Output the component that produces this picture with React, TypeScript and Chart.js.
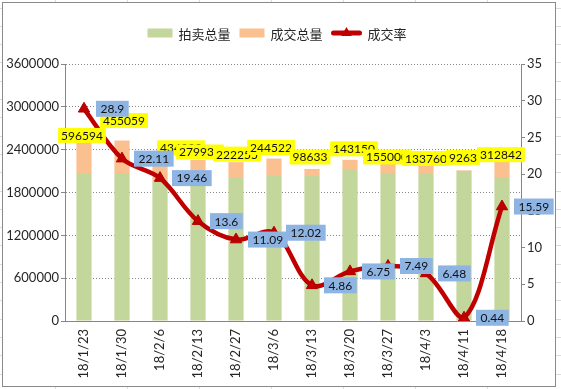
import React, { useEffect, useRef } from 'react';
import { Chart, registerables } from 'chart.js';

Chart.register(...registerables);

const categories = ['18/1/23', '18/1/30', '18/2/6', '18/2/13', '18/2/27', '18/3/6', '18/3/13', '18/3/20', '18/3/27', '18/4/3', '18/4/11', '18/4/18'];
const auctionVolume = [2059000, 2073000, 1950000, 1975000, 2003000, 2031000, 2031000, 2115000, 2073000, 2073000, 2101000, 2003000];
const dealVolume = [596594, 455059, 434000, 279930, 222255, 244522, 98633, 143150, 155000, 133760, 9263, 312842];
const dealRate = [28.9, 22.11, 19.46, 13.6, 11.09, 12.02, 4.86, 6.75, 7.49, 6.48, 0.44, 15.59];
const seriesNames = ['拍卖总量', '成交总量', '成交率'];
const leftMax = 3600000;
const leftStep = 600000;
const rightMax = 35;
const rightStep = 5;

// label nudges (px) relative to the top of each stacked bar
const volLabelShift = [[-2, 4], [2, -20], [21, -3], [2, -8], [1, -8], [-3, -11], [-2, -12], [4, -11], [-1, -5], [0, -5], [-1, -13], [-1, -1]];

const GREEN = '#C3D69B';
const ORANGE = '#FAC090';
const RED = '#C00000';
const AXIS = '#868686';
const TEXT = '#262626';
const NUM_FONT = 'Lato, "Liberation Sans", sans-serif';
const CJK_FONT = '"Noto Sans CJK SC", "Noto Sans", sans-serif';

function triangle(ctx: CanvasRenderingContext2D, x: number, y: number, r: number) {
  const side = r * Math.sqrt(3);
  const h = side * Math.sqrt(3) / 2;
  ctx.beginPath();
  ctx.moveTo(x, y - h * 2 / 3);
  ctx.lineTo(x + side / 2, y + h / 3);
  ctx.lineTo(x - side / 2, y + h / 3);
  ctx.closePath();
  ctx.fill();
}

const bgPlugin = {
  id: 'bgFrame',
  beforeDraw(chart: any) {
    const ctx = chart.ctx as CanvasRenderingContext2D;
    const W = chart.width, H = chart.height;
    ctx.save();
    ctx.fillStyle = '#fff';
    ctx.fillRect(0, 0, W, H);
    ctx.strokeStyle = '#dcdcdc';
    ctx.lineWidth = 1;
    for (let y = 7.5; y < H; y += 18.3) {
      ctx.beginPath(); ctx.moveTo(0, Math.round(y) + 0.5); ctx.lineTo(W, Math.round(y) + 0.5); ctx.stroke();
    }
    [55, 127, 199, 271, 343, 415, 487].forEach(x => {
      ctx.beginPath(); ctx.moveTo(x + 0.5, 0); ctx.lineTo(x + 0.5, H); ctx.stroke();
    });
    ctx.fillStyle = '#fff';
    ctx.fillRect(2, 2, 554, 385);
    ctx.strokeStyle = '#8a8a8a';
    ctx.strokeRect(2.5, 2.5, 553, 384);
    ctx.restore();
  },
};

const legendPlugin = {
  id: 'customLegend',
  afterDraw(chart: any) {
    const ctx = chart.ctx as CanvasRenderingContext2D;
    ctx.save();
    ctx.font = `13px ${CJK_FONT}`;
    ctx.textBaseline = 'middle';
    ctx.textAlign = 'left';
    const y = 33;
    const symW = [25, 25, 30];
    const gapSym = 6, gapItem = 9;
    const widths = seriesNames.map(n => ctx.measureText(n).width);
    let total = 0;
    seriesNames.forEach((_, i) => { total += symW[i] + gapSym + widths[i] + (i < 2 ? gapItem : 0); });
    let x = 277 - total / 2;
    seriesNames.forEach((name, i) => {
      if (i < 2) {
        ctx.fillStyle = i === 0 ? GREEN : ORANGE;
        ctx.fillRect(x, y - 4.5, symW[i], 9);
      } else {
        ctx.strokeStyle = RED;
        ctx.lineWidth = 5;
        ctx.lineCap = 'round';
        ctx.beginPath(); ctx.moveTo(x + 2, y); ctx.lineTo(x + symW[i] - 2, y); ctx.stroke();
        ctx.fillStyle = RED;
        triangle(ctx, x + symW[i] / 2, y, 6);
      }
      x += symW[i] + gapSym;
      ctx.fillStyle = TEXT;
      ctx.fillText(name, x, y + 1);
      x += widths[i] + gapItem;
    });
    ctx.restore();
  },
};

const labelPlugin = {
  id: 'valueLabels',
  afterDatasetsDraw(chart: any) {
    const ctx = chart.ctx as CanvasRenderingContext2D;
    ctx.save();
    ctx.font = `12px ${NUM_FONT}`;
    ctx.textAlign = 'center';
    ctx.textBaseline = 'middle';
    const barMeta = chart.getDatasetMeta(1);
    barMeta.data.forEach((el: any, i: number) => {
      const txt = String(dealVolume[i]);
      const [dx, dy] = volLabelShift[i];
      const cx = el.x + dx, cy = el.y + dy;
      const w = ctx.measureText(txt).width + 6, h = 15;
      ctx.fillStyle = '#FFFF00';
      ctx.fillRect(cx - w / 2, cy - h / 2, w, h);
      ctx.fillStyle = '#111';
      ctx.fillText(txt, cx, cy + 0.5);
    });
    const lineMeta = chart.getDatasetMeta(2);
    lineMeta.data.forEach((el: any, i: number) => {
      const txt = String(dealRate[i]);
      const w = ctx.measureText(txt).width + 9, h = 16;
      const cx = el.x + 12 + w / 2, cy = el.y;
      ctx.fillStyle = '#8EB4E3';
      ctx.fillRect(cx - w / 2, cy - h / 2, w, h);
      ctx.fillStyle = '#111';
      ctx.fillText(txt, cx, cy + 0.5);
    });
    ctx.restore();
  },
};

export default function App() {
  const ref = useRef<HTMLCanvasElement | null>(null);
  useEffect(() => {
    if (!ref.current) return;
    const chart = new Chart(ref.current, {
      type: 'bar',
      data: {
        labels: categories,
        datasets: [
          { type: 'bar', label: seriesNames[0], data: auctionVolume, backgroundColor: GREEN, stack: 'v', yAxisID: 'y', order: 2, barPercentage: 0.4, categoryPercentage: 1 } as any,
          { type: 'bar', label: seriesNames[1], data: dealVolume, backgroundColor: ORANGE, stack: 'v', yAxisID: 'y', order: 2, barPercentage: 0.4, categoryPercentage: 1 } as any,
          {
            type: 'line', label: seriesNames[2], data: dealRate, yAxisID: 'y1', order: 0,
            borderColor: RED, borderWidth: 4.5, tension: 0.35, fill: false,
            pointStyle: 'triangle', pointRadius: 6.5, pointBackgroundColor: RED, pointBorderColor: '#B00000', pointBorderWidth: 1,
          } as any,
        ],
      },
      options: {
        responsive: false,
        animation: false,
        layout: { padding: { top: 64, left: 0, right: 0, bottom: 0 } },
        plugins: { legend: { display: false }, tooltip: { enabled: false } },
        scales: {
          x: {
            stacked: true,
            grid: { display: false, drawTicks: false },
            border: { color: AXIS, width: 1 },
            ticks: { autoSkip: false, minRotation: 90, maxRotation: 90, padding: 8, color: TEXT, font: { family: NUM_FONT, size: 13 } },
            afterFit: (s: any) => { s.height = 68; },
          },
          y: {
            stacked: true, min: 0, max: leftMax,
            ticks: { stepSize: leftStep, padding: 2, color: TEXT, font: { family: NUM_FONT, size: 13 }, callback: (v: any) => String(v) },
            grid: { color: AXIS, lineWidth: 1, tickLength: 4, tickColor: AXIS, drawTicks: true },
            border: { color: AXIS, width: 1, dash: [1, 2] },
            afterFit: (s: any) => { s.width = 65; },
          },
          y1: {
            position: 'right', min: 0, max: rightMax, z: 1,
            ticks: { stepSize: rightStep, padding: 2, color: TEXT, font: { family: NUM_FONT, size: 13 }, callback: (v: any) => String(v) },
            grid: { drawOnChartArea: false, tickLength: 4, color: AXIS },
            border: { color: AXIS, width: 1 },
            afterFit: (s: any) => { s.width = 40; },
          },
        },
      },
      plugins: [bgPlugin, labelPlugin, legendPlugin],
    } as any);
    return () => chart.destroy();
  }, []);
  return (
    <div style={{ position: 'absolute', left: 0, top: 0, width: 561, height: 389 }}>
      <canvas ref={ref} width={561} height={389} style={{ width: 561, height: 389 }} />
    </div>
  );
}
